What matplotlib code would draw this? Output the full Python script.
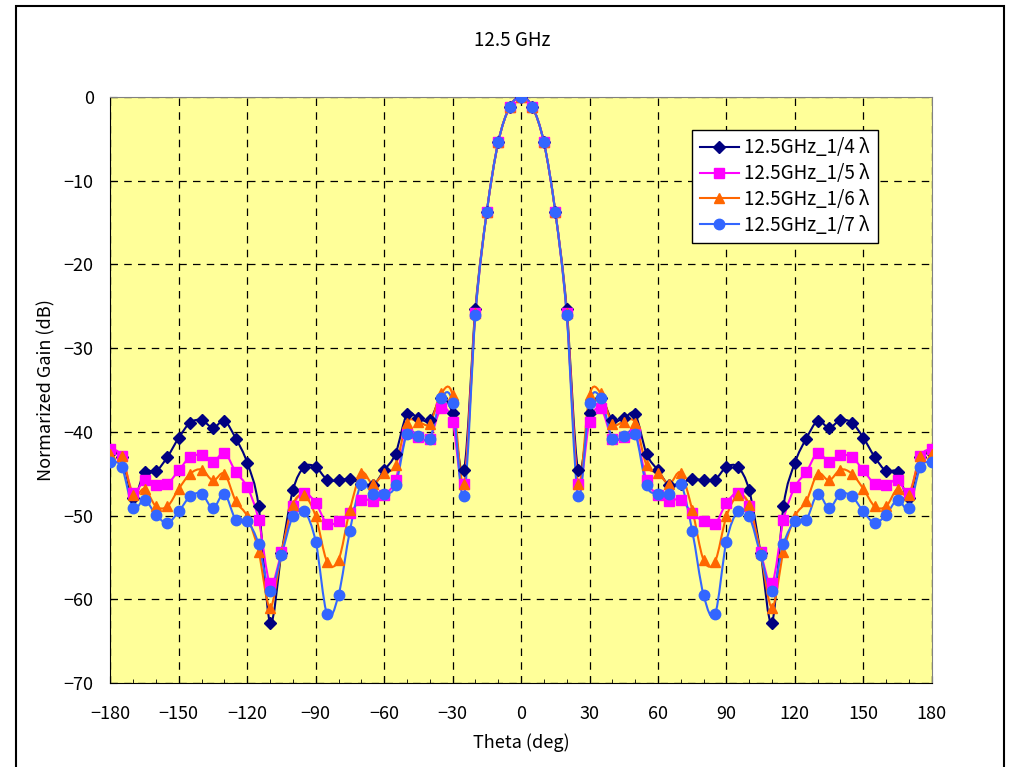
import numpy as np
import matplotlib
matplotlib.use('Agg')
import matplotlib.pyplot as plt
from matplotlib.path import Path
from matplotlib.patches import PathPatch, Rectangle
from matplotlib.lines import Line2D
from matplotlib.ticker import MultipleLocator

plt.rcParams['font.family'] = ['Noto Sans CJK JP', 'DejaVu Sans']

# angle in degrees, 5 degree steps
theta = list(range(-180, 185, 5))

gain_4 = [-42.5, -43.0, -47.9, -44.8, -44.7, -43.0, -40.7, -38.9, -38.6, -39.5, -38.7, -40.8,
          -43.7, -48.9, -62.8, -54.5, -47.0, -44.2, -44.2, -45.7, -45.8, -45.6, -46.2, -46.4,
          -44.6, -42.6, -37.9, -38.4, -38.6, -36.0, -37.8, -44.6, -25.3, -13.7, -5.4, -1.2,
          0.0,
          -1.2, -5.4, -13.7, -25.3, -44.6, -37.8, -36.0, -38.6, -38.4, -37.9, -42.6, -44.6,
          -46.4, -46.2, -45.6, -45.8, -45.7, -44.2, -44.2, -47.0, -54.5, -62.8, -48.9, -43.7,
          -40.8, -38.7, -39.5, -38.6, -38.9, -40.7, -43.0, -44.7, -44.8, -47.9, -43.0, -42.5]

gain_5 = [-42.0, -42.9, -47.3, -45.7, -46.4, -46.2, -44.6, -43.0, -42.8, -43.6, -42.5, -44.8,
          -46.6, -50.5, -58.1, -54.4, -48.9, -47.3, -48.5, -51.0, -50.7, -49.7, -48.1, -48.2,
          -47.6, -45.7, -40.1, -40.6, -40.8, -37.2, -38.8, -46.2, -25.8, -13.7, -5.4, -1.2,
          0.0,
          -1.2, -5.4, -13.7, -25.8, -46.2, -38.8, -37.2, -40.8, -40.6, -40.1, -45.7, -47.6,
          -48.2, -48.1, -49.7, -50.7, -51.0, -48.5, -47.3, -48.9, -54.4, -58.1, -50.5, -46.6,
          -44.8, -42.5, -43.6, -42.8, -43.0, -44.6, -46.2, -46.4, -45.7, -47.3, -42.9, -42.0]

gain_6 = [-42.7, -42.9, -47.6, -46.8, -48.9, -48.9, -46.8, -45.0, -44.5, -45.8, -45.0, -48.3,
          -50.1, -54.3, -61.0, -54.5, -48.7, -47.6, -50.1, -55.5, -55.3, -49.3, -44.9, -46.2,
          -44.9, -44.0, -38.9, -38.8, -39.0, -35.4, -35.6, -46.2, -25.8, -13.7, -5.4, -1.2,
          0.0,
          -1.2, -5.4, -13.7, -25.8, -46.2, -35.6, -35.4, -39.0, -38.8, -38.9, -44.0, -44.9,
          -46.2, -44.9, -49.3, -55.3, -55.5, -50.1, -47.6, -48.7, -54.5, -61.0, -54.3, -50.1,
          -48.3, -45.0, -45.8, -44.5, -45.0, -46.8, -48.9, -48.9, -46.8, -47.6, -42.9, -42.7]

gain_7 = [-43.6, -44.2, -49.1, -48.1, -49.9, -50.9, -49.5, -47.7, -47.4, -49.1, -47.4, -50.5,
          -50.7, -53.4, -59.0, -54.7, -50.1, -49.5, -53.1, -61.8, -59.5, -51.8, -46.2, -47.4,
          -47.4, -46.4, -40.2, -40.5, -40.8, -36.0, -36.5, -47.7, -26.0, -13.7, -5.4, -1.2,
          0.0,
          -1.2, -5.4, -13.7, -26.0, -47.7, -36.5, -36.0, -40.8, -40.5, -40.2, -46.4, -47.4,
          -47.4, -46.2, -51.8, -59.5, -61.8, -53.1, -49.5, -50.1, -54.7, -59.0, -53.4, -50.7,
          -50.5, -47.4, -49.1, -47.4, -47.7, -49.5, -50.9, -49.9, -48.1, -49.1, -44.2, -43.6]

labels = ['12.5GHz_1/4 λ', '12.5GHz_1/5 λ', '12.5GHz_1/6 λ', '12.5GHz_1/7 λ']
colors = ['#000080', '#FF00FF', '#FF6600', '#3366FF']
markers = ['D', 's', '^', 'o']
msizes = [6, 7, 7.5, 7.5]


def smooth_path(x, y):
    # Catmull-Rom style bezier through the points (like Excel smoothed lines)
    p = np.column_stack([x, y]).astype(float)
    n = len(p)
    verts = [p[0]]
    codes = [Path.MOVETO]
    for i in range(n - 1):
        p0 = p[i - 1] if i > 0 else p[i]
        p1 = p[i]
        p2 = p[i + 1]
        p3 = p[i + 2] if i + 2 < n else p[i + 1]
        verts += [p1 + (p2 - p0) / 6, p2 - (p3 - p1) / 6, p2]
        codes += [Path.CURVE4] * 3
    return Path(verts, codes)


fig = plt.figure(figsize=(10.15, 7.67), dpi=100)
ax = fig.add_axes([0.1087, 0.1095, 0.8093, 0.764])
ax.set_facecolor('#FFFF99')

series = [gain_4, gain_5, gain_6, gain_7]
handles = []
for g, c, m, ms, lab in zip(series, colors, markers, msizes, labels):
    ax.add_patch(PathPatch(smooth_path(theta, g), fill=False, edgecolor=c, lw=1.5, zorder=3))
    ax.plot(theta, g, linestyle='none', marker=m, markersize=ms, color=c,
            markeredgecolor=c, zorder=4)
    handles.append(Line2D([], [], color=c, lw=1.5, marker=m, markersize=ms, label=lab))

ax.set_xlim(-180, 180)
ax.set_ylim(-70, 0)
ax.xaxis.set_major_locator(MultipleLocator(30))
ax.xaxis.set_minor_locator(MultipleLocator(10))
ax.yaxis.set_major_locator(MultipleLocator(10))
ax.tick_params(which='major', direction='in', length=5, labelsize=13)
ax.tick_params(axis='x', which='major', pad=16)
ax.tick_params(axis='y', which='major', pad=12)
ax.tick_params(which='minor', direction='in', length=3)
ax.grid(True, which='major', color='black', linestyle=(0, (6, 5)), lw=0.9)

for s in ['top', 'right']:
    ax.spines[s].set_color('#808080')
for s in ['left', 'bottom']:
    ax.spines[s].set_color('black')

ax.set_xlabel('Theta (deg)', fontsize=13, labelpad=7)
ax.set_ylabel('Normarized Gain (dB)', fontsize=13, labelpad=6)
fig.text(0.505, 1 - 40 / 767, '12.5 GHz', ha='center', va='center', fontsize=13.5)

leg = ax.legend(handles=handles, loc='upper left', bbox_to_anchor=(692 / 1015, 1 - 130 / 767),
                bbox_transform=fig.transFigure, fontsize=13.5, fancybox=False,
                framealpha=1, edgecolor='black', handlelength=2.1, handletextpad=0.3,
                borderpad=0.4, labelspacing=0.25, borderaxespad=0)
leg.get_frame().set_linewidth(1.0)

fig.patches.append(Rectangle((16 / 1015, -0.01), 988 / 1015, 1.01 - 6 / 767,
                             transform=fig.transFigure, fill=False, edgecolor='black', lw=1.5))

fig.savefig('out.png', dpi=100)
